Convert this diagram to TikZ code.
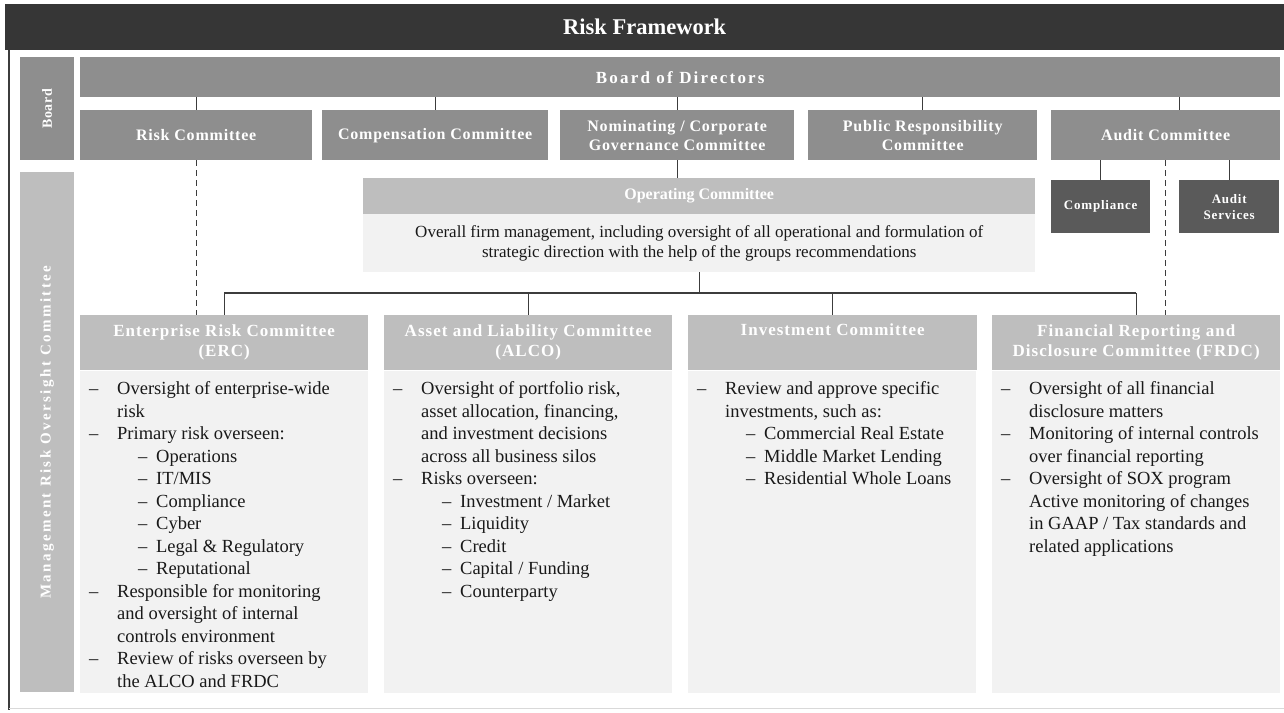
\documentclass[tikz,border=0pt]{standalone}
\usepackage{fontspec}
\setmainfont{Liberation Serif}
\usetikzlibrary{positioning}

\definecolor{titlegray}{HTML}{363636}
\definecolor{boardgray}{HTML}{8E8E8E}
\definecolor{hdrgray}{HTML}{BEBEBE}
\definecolor{bodygray}{HTML}{F2F2F2}
\definecolor{audgray}{HTML}{5A5A5A}
\definecolor{linegray}{HTML}{3C3C3C}

% list lines: main dash, continuation, sub dash
\newcommand\itm{\hspace*{9pt}\makebox[28pt][l]{--}}
\newcommand\cnt{\hspace*{37pt}}
\newcommand\subitm{\hspace*{58pt}\makebox[18pt][l]{--}}

\tikzset{
  box/.style={anchor=north west, inner sep=0pt, text=white, align=center,
    font=\bfseries\fontsize{16}{19}\selectfont\addfontfeature{LetterSpace=5}},
  brd/.style={box, fill=boardgray},
  hdr/.style={box, fill=hdrgray, font=\bfseries\fontsize{17}{20}\selectfont\addfontfeature{LetterSpace=6}},
  aud/.style={box, fill=audgray, font=\bfseries\fontsize{13}{16}\selectfont\addfontfeature{LetterSpace=6}},
  bodybox/.style={anchor=north west, inner sep=0pt, fill=bodygray},
  list/.style={anchor=north west, inner sep=0pt, align=left, text=black!90,
    font=\fontsize{18.5}{22.5}\selectfont},
  link/.style={draw=linegray, line width=1.3pt},
  dlink/.style={link, dash pattern=on 6pt off 4pt},
}

\begin{document}
\begin{tikzpicture}[x=1pt,y=-1pt]
\useasboundingbox (0,0) rectangle (1284,712);
\fill[white] (0,0) rectangle (1284,712);

% frame and title
\draw[linegray, line width=1.5pt] (9,50) -- (9,710);
\draw[black!15, line width=1pt] (9,708) -- (1284,708);
\node[anchor=north west, fill=titlegray, minimum width=1279pt, minimum height=46pt,
  inner sep=0pt, text=white, font=\bfseries\fontsize{22.5}{26}\selectfont] (title) at (5,4) {Risk Framework};

% side labels
\node[brd, minimum width=54pt, minimum height=103pt] (boardlbl) at (20,57) {};
\node[rotate=90, text=white, font=\bfseries\fontsize{14}{16}\selectfont\addfontfeature{LetterSpace=4}] (boardtxt) at (boardlbl) {Board};
\node[box, fill=hdrgray, minimum width=54pt, minimum height=520pt] (mgmtlbl) at (20,172) {};
\node[rotate=90, text=white, font=\bfseries\fontsize{15}{17}\selectfont\addfontfeature{LetterSpace=16}] (mgmttxt) at (mgmtlbl) {Management Risk Oversight Committee};

% board row
\node[brd, minimum width=1200pt, minimum height=40pt, font=\bfseries\fontsize{17}{20}\selectfont\addfontfeature{LetterSpace=13}] (bod) at (80,57) {Board of Directors};
\node[brd, minimum width=232pt, minimum height=50pt] (risk) at (80,110) {Risk Committee};
\node[brd, minimum width=226pt, minimum height=50pt] (comp) at (322,110) {Compensation Committee};
\node[brd, minimum width=234pt, minimum height=50pt] (nom) at (560,110) {Nominating / Corporate\\Governance Committee};
\node[brd, minimum width=229pt, minimum height=50pt] (pub) at (808,110) {Public Responsibility\\Committee};
\node[brd, minimum width=229pt, minimum height=50pt] (audc) at (1051,110) {Audit Committee};
\foreach \n in {risk,comp,nom,pub}
  \draw[link] (bod.south -| \n.north) -- (\n.north);
\draw[link] ([xshift=14pt]bod.south -| audc.north) -- ([xshift=14pt]audc.north);

% operating committee and audit units
\node[hdr, minimum width=672pt, minimum height=36pt, font=\bfseries\fontsize{16}{19}\selectfont] (ophdr) at (363,178) {Operating Committee};
\node[bodybox, minimum width=672pt, minimum height=58pt, text=black!90, align=center,
  font=\fontsize{17}{20}\selectfont] (opbody) at (363,214)
  {Overall firm management, including oversight of all operational and formulation of\\strategic direction with the help of the groups recommendations};
\draw[link] (nom.south) -- (ophdr.north -| nom.south);
\node[aud, minimum width=99pt, minimum height=53pt] (compl) at (1051,180) {Compliance};
\node[aud, minimum width=100pt, minimum height=53pt] (audsrv) at (1179,180) {Audit\\Services};
\foreach \n in {compl,audsrv}
  \draw[link] (audc.south -| \n.north) -- (\n.north);

% management committees
\node[hdr, minimum width=288pt, minimum height=55pt] (erc) at (80,315) {Enterprise Risk Committee\\(ERC)};
\node[hdr, minimum width=288pt, minimum height=55pt] (alco) at (384,315) {Asset and Liability Committee\\(ALCO)};
\node[hdr, minimum width=289pt, minimum height=55pt] (inv) at (688,315) {Investment Committee\\\strut};
\node[hdr, minimum width=288pt, minimum height=55pt] (frdc) at (992,315) {Financial Reporting and\\Disclosure Committee (FRDC)};
\foreach \n in {erc,alco,inv,frdc}
  \node[bodybox, minimum width=288pt, minimum height=322pt] (\n body) at (\n.south west) {};

\coordinate (bus) at (0,293);
\draw[link] (opbody.south) -- (opbody.south |- bus);
\draw[link] (erc.north |- bus) -- (frdc.north |- bus);
\foreach \n in {erc,alco,inv,frdc}
  \draw[link] (\n.north |- bus) -- (\n.north);
\draw[dlink] (risk.south) -- (erc.north -| risk.south);
\draw[dlink] (audc.south) -- (frdc.north -| audc.south);

% lists
\node[list] (erclist) at ([yshift=-11pt]ercbody.north west) {%
\itm Oversight of enterprise-wide\\
\cnt risk\\
\itm Primary risk overseen:\\
\subitm Operations\\
\subitm IT/MIS\\
\subitm Compliance\\
\subitm Cyber\\
\subitm Legal \& Regulatory\\
\subitm Reputational\\
\itm Responsible for monitoring\\
\cnt and oversight of internal\\
\cnt controls environment\\
\itm Review of risks overseen by\\
\cnt the ALCO and FRDC};
\node[list] (alcolist) at ([yshift=-11pt]alcobody.north west) {%
\itm Oversight of portfolio risk,\\
\cnt asset allocation, financing,\\
\cnt and investment decisions\\
\cnt across all business silos\\
\itm Risks overseen:\\
\subitm Investment / Market\\
\subitm Liquidity\\
\subitm Credit\\
\subitm Capital / Funding\\
\subitm Counterparty};
\node[list] (invlist) at ([yshift=-11pt]invbody.north west) {%
\itm Review and approve specific\\
\cnt investments, such as:\\
\subitm Commercial Real Estate\\
\subitm Middle Market Lending\\
\subitm Residential Whole Loans};
\node[list] (frdclist) at ([yshift=-11pt]frdcbody.north west) {%
\itm Oversight of all financial\\
\cnt disclosure matters\\
\itm Monitoring of internal controls\\
\cnt over financial reporting\\
\itm Oversight of SOX program\\
\cnt Active monitoring of changes\\
\cnt in GAAP / Tax standards and\\
\cnt related applications};

\end{tikzpicture}
\end{document}
